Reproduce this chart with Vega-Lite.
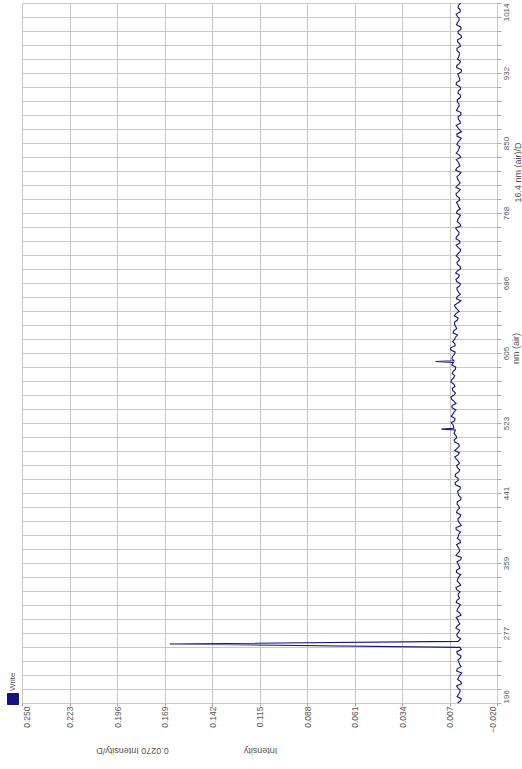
{
  "$schema": "https://vega.github.io/schema/vega-lite/v6.json",
  "width": 475,
  "height": 700,
  "autosize": "none",
  "padding": {"left": 22, "top": 3, "right": 25, "bottom": 66},
  "background": "white",
  "config": {
    "view": {"stroke": "#aaaaaa", "strokeWidth": 1},
    "font": "Liberation Sans",
    "axis": {
      "labelColor": "#555555",
      "titleColor": "#555555",
      "titleFontWeight": "normal",
      "titleFontSize": 9,
      "gridColor": "#c8c8c8",
      "gridWidth": 1,
      "domain": false,
      "tickColor": "#aaaaaa",
      "labelFlush": false
    }
  },
  "data": {
    "values": [
      {"nm": 196, "intensity": 0.0024, "series": "Write"},
      {"nm": 201, "intensity": 0.0003, "series": "Write"},
      {"nm": 206, "intensity": 0.00195, "series": "Write"},
      {"nm": 211, "intensity": 0.0009, "series": "Write"},
      {"nm": 216, "intensity": 0.0030, "series": "Write"},
      {"nm": 221, "intensity": 0.0006, "series": "Write"},
      {"nm": 226, "intensity": 0.0018, "series": "Write"},
      {"nm": 231, "intensity": 0.0000, "series": "Write"},
      {"nm": 236, "intensity": 0.00255, "series": "Write"},
      {"nm": 241, "intensity": 0.0012, "series": "Write"},
      {"nm": 246, "intensity": 0.00225, "series": "Write"},
      {"nm": 251, "intensity": 0.00045, "series": "Write"},
      {"nm": 256, "intensity": 0.00285, "series": "Write"},
      {"nm": 261, "intensity": 0.00105, "series": "Write"},
      {"nm": 265, "intensity": 0.166, "series": "Write"},
      {"nm": 268, "intensity": 0.00215, "series": "Write"},
      {"nm": 271, "intensity": 0.00065, "series": "Write"},
      {"nm": 276, "intensity": 0.0029, "series": "Write"},
      {"nm": 281, "intensity": 0.00125, "series": "Write"},
      {"nm": 286, "intensity": 0.0026, "series": "Write"},
      {"nm": 291, "intensity": 0.00185, "series": "Write"},
      {"nm": 296, "intensity": 0.0032, "series": "Write"},
      {"nm": 301, "intensity": 0.0011, "series": "Write"},
      {"nm": 306, "intensity": 0.00245, "series": "Write"},
      {"nm": 311, "intensity": 0.0008, "series": "Write"},
      {"nm": 316, "intensity": 0.00275, "series": "Write"},
      {"nm": 321, "intensity": 0.0020, "series": "Write"},
      {"nm": 326, "intensity": 0.00095, "series": "Write"},
      {"nm": 331, "intensity": 0.00335, "series": "Write"},
      {"nm": 336, "intensity": 0.0014, "series": "Write"},
      {"nm": 341, "intensity": 0.0023, "series": "Write"},
      {"nm": 346, "intensity": 0.00065, "series": "Write"},
      {"nm": 351, "intensity": 0.00305, "series": "Write"},
      {"nm": 356, "intensity": 0.00155, "series": "Write"},
      {"nm": 361, "intensity": 0.0027, "series": "Write"},
      {"nm": 366, "intensity": 0.0003, "series": "Write"},
      {"nm": 371, "intensity": 0.0024, "series": "Write"},
      {"nm": 376, "intensity": 0.0015, "series": "Write"},
      {"nm": 381, "intensity": 0.0030, "series": "Write"},
      {"nm": 386, "intensity": 0.00105, "series": "Write"},
      {"nm": 391, "intensity": 0.00195, "series": "Write"},
      {"nm": 396, "intensity": 0.00075, "series": "Write"},
      {"nm": 401, "intensity": 0.0033, "series": "Write"},
      {"nm": 406, "intensity": 0.0012, "series": "Write"},
      {"nm": 411, "intensity": 0.00225, "series": "Write"},
      {"nm": 416, "intensity": 0.0006, "series": "Write"},
      {"nm": 421, "intensity": 0.0027, "series": "Write"},
      {"nm": 426, "intensity": 0.00165, "series": "Write"},
      {"nm": 431, "intensity": 0.00255, "series": "Write"},
      {"nm": 436, "intensity": 0.00045, "series": "Write"},
      {"nm": 441, "intensity": 0.0021, "series": "Write"},
      {"nm": 446, "intensity": 0.0009, "series": "Write"},
      {"nm": 451, "intensity": 0.00355, "series": "Write"},
      {"nm": 456, "intensity": 0.00205, "series": "Write"},
      {"nm": 461, "intensity": 0.00385, "series": "Write"},
      {"nm": 466, "intensity": 0.00175, "series": "Write"},
      {"nm": 471, "intensity": 0.0025, "series": "Write"},
      {"nm": 476, "intensity": 0.0013, "series": "Write"},
      {"nm": 481, "intensity": 0.0031, "series": "Write"},
      {"nm": 486, "intensity": 0.0022, "series": "Write"},
      {"nm": 491, "intensity": 0.0040, "series": "Write"},
      {"nm": 496, "intensity": 0.00145, "series": "Write"},
      {"nm": 501, "intensity": 0.00395, "series": "Write"},
      {"nm": 506, "intensity": 0.0029, "series": "Write"},
      {"nm": 511, "intensity": 0.0044, "series": "Write"},
      {"nm": 515, "intensity": 0.00365, "series": "Write"},
      {"nm": 516, "intensity": 0.0115, "series": "Write"},
      {"nm": 517, "intensity": 0.00455, "series": "Write"},
      {"nm": 521, "intensity": 0.00495, "series": "Write"},
      {"nm": 526, "intensity": 0.00405, "series": "Write"},
      {"nm": 531, "intensity": 0.0060, "series": "Write"},
      {"nm": 536, "intensity": 0.0045, "series": "Write"},
      {"nm": 541, "intensity": 0.00555, "series": "Write"},
      {"nm": 546, "intensity": 0.0033, "series": "Write"},
      {"nm": 551, "intensity": 0.00585, "series": "Write"},
      {"nm": 556, "intensity": 0.00435, "series": "Write"},
      {"nm": 561, "intensity": 0.0051, "series": "Write"},
      {"nm": 566, "intensity": 0.0039, "series": "Write"},
      {"nm": 571, "intensity": 0.00615, "series": "Write"},
      {"nm": 576, "intensity": 0.00465, "series": "Write"},
      {"nm": 581, "intensity": 0.0054, "series": "Write"},
      {"nm": 586, "intensity": 0.0036, "series": "Write"},
      {"nm": 591, "intensity": 0.0057, "series": "Write"},
      {"nm": 594, "intensity": 0.0048, "series": "Write"},
      {"nm": 595, "intensity": 0.0150, "series": "Write"},
      {"nm": 596, "intensity": 0.0045, "series": "Write"},
      {"nm": 601, "intensity": 0.00525, "series": "Write"},
      {"nm": 606, "intensity": 0.00375, "series": "Write"},
      {"nm": 611, "intensity": 0.0063, "series": "Write"},
      {"nm": 616, "intensity": 0.00405, "series": "Write"},
      {"nm": 621, "intensity": 0.00395, "series": "Write"},
      {"nm": 626, "intensity": 0.00245, "series": "Write"},
      {"nm": 631, "intensity": 0.00455, "series": "Write"},
      {"nm": 636, "intensity": 0.0035, "series": "Write"},
      {"nm": 641, "intensity": 0.0042, "series": "Write"},
      {"nm": 646, "intensity": 0.0021, "series": "Write"},
      {"nm": 651, "intensity": 0.0033, "series": "Write"},
      {"nm": 656, "intensity": 0.00255, "series": "Write"},
      {"nm": 661, "intensity": 0.00405, "series": "Write"},
      {"nm": 666, "intensity": 0.0005, "series": "Write"},
      {"nm": 671, "intensity": 0.0026, "series": "Write"},
      {"nm": 676, "intensity": 0.00185, "series": "Write"},
      {"nm": 681, "intensity": 0.0029, "series": "Write"},
      {"nm": 686, "intensity": 0.0008, "series": "Write"},
      {"nm": 691, "intensity": 0.00335, "series": "Write"},
      {"nm": 696, "intensity": 0.0014, "series": "Write"},
      {"nm": 701, "intensity": 0.00245, "series": "Write"},
      {"nm": 706, "intensity": 0.00095, "series": "Write"},
      {"nm": 711, "intensity": 0.00275, "series": "Write"},
      {"nm": 716, "intensity": 0.0017, "series": "Write"},
      {"nm": 721, "intensity": 0.00215, "series": "Write"},
      {"nm": 726, "intensity": 0.00065, "series": "Write"},
      {"nm": 731, "intensity": 0.0032, "series": "Write"},
      {"nm": 736, "intensity": 0.00125, "series": "Write"},
      {"nm": 741, "intensity": 0.0029, "series": "Write"},
      {"nm": 746, "intensity": 0.00155, "series": "Write"},
      {"nm": 751, "intensity": 0.0035, "series": "Write"},
      {"nm": 756, "intensity": 0.0011, "series": "Write"},
      {"nm": 761, "intensity": 0.0023, "series": "Write"},
      {"nm": 766, "intensity": 0.0008, "series": "Write"},
      {"nm": 771, "intensity": 0.0026, "series": "Write"},
      {"nm": 776, "intensity": 0.00185, "series": "Write"},
      {"nm": 781, "intensity": 0.00305, "series": "Write"},
      {"nm": 786, "intensity": 0.0014, "series": "Write"},
      {"nm": 791, "intensity": 0.00335, "series": "Write"},
      {"nm": 796, "intensity": 0.00095, "series": "Write"},
      {"nm": 801, "intensity": 0.00245, "series": "Write"},
      {"nm": 806, "intensity": 0.0017, "series": "Write"},
      {"nm": 811, "intensity": 0.00275, "series": "Write"},
      {"nm": 816, "intensity": 0.0005, "series": "Write"},
      {"nm": 821, "intensity": 0.0029, "series": "Write"},
      {"nm": 826, "intensity": 0.00155, "series": "Write"},
      {"nm": 831, "intensity": 0.0032, "series": "Write"},
      {"nm": 836, "intensity": 0.00125, "series": "Write"},
      {"nm": 841, "intensity": 0.00215, "series": "Write"},
      {"nm": 846, "intensity": 0.0011, "series": "Write"},
      {"nm": 851, "intensity": 0.0023, "series": "Write"},
      {"nm": 856, "intensity": 0.00035, "series": "Write"},
      {"nm": 861, "intensity": 0.00275, "series": "Write"},
      {"nm": 866, "intensity": 0.0014, "series": "Write"},
      {"nm": 871, "intensity": 0.0032, "series": "Write"},
      {"nm": 876, "intensity": 0.0011, "series": "Write"},
      {"nm": 881, "intensity": 0.00215, "series": "Write"},
      {"nm": 886, "intensity": 0.0005, "series": "Write"},
      {"nm": 891, "intensity": 0.00245, "series": "Write"},
      {"nm": 896, "intensity": 0.00155, "series": "Write"},
      {"nm": 901, "intensity": 0.0026, "series": "Write"},
      {"nm": 906, "intensity": 0.00065, "series": "Write"},
      {"nm": 911, "intensity": 0.0020, "series": "Write"},
      {"nm": 916, "intensity": 0.00095, "series": "Write"},
      {"nm": 921, "intensity": 0.00305, "series": "Write"},
      {"nm": 926, "intensity": 0.00125, "series": "Write"},
      {"nm": 931, "intensity": 0.0023, "series": "Write"},
      {"nm": 936, "intensity": 0.0002, "series": "Write"},
      {"nm": 941, "intensity": 0.0029, "series": "Write"},
      {"nm": 946, "intensity": 0.0008, "series": "Write"},
      {"nm": 951, "intensity": 0.00185, "series": "Write"},
      {"nm": 956, "intensity": 0.0014, "series": "Write"},
      {"nm": 961, "intensity": 0.00275, "series": "Write"},
      {"nm": 966, "intensity": 0.0011, "series": "Write"},
      {"nm": 971, "intensity": 0.00245, "series": "Write"},
      {"nm": 976, "intensity": 0.00035, "series": "Write"},
      {"nm": 981, "intensity": 0.00215, "series": "Write"},
      {"nm": 986, "intensity": 0.0005, "series": "Write"},
      {"nm": 991, "intensity": 0.0026, "series": "Write"},
      {"nm": 996, "intensity": 0.00155, "series": "Write"},
      {"nm": 1001, "intensity": 0.0032, "series": "Write"},
      {"nm": 1006, "intensity": 0.00095, "series": "Write"},
      {"nm": 1011, "intensity": 0.0020, "series": "Write"},
      {"nm": 1014, "intensity": 0.00065, "series": "Write"},
      {"nm": 198.5, "intensity": 0.00075, "series": "Write"},
      {"nm": 203.5, "intensity": 0.0027, "series": "Write"},
      {"nm": 208.5, "intensity": 0.0012, "series": "Write"},
      {"nm": 213.5, "intensity": 0.0021, "series": "Write"},
      {"nm": 218.5, "intensity": 0.00015, "series": "Write"},
      {"nm": 223.5, "intensity": 0.0024, "series": "Write"},
      {"nm": 228.5, "intensity": 0.00105, "series": "Write"},
      {"nm": 233.5, "intensity": 0.0030, "series": "Write"},
      {"nm": 238.5, "intensity": 0.00045, "series": "Write"},
      {"nm": 243.5, "intensity": 0.00165, "series": "Write"},
      {"nm": 248.5, "intensity": 0.0009, "series": "Write"},
      {"nm": 253.5, "intensity": 0.00255, "series": "Write"},
      {"nm": 258.5, "intensity": 0.0003, "series": "Write"},
      {"nm": 273.5, "intensity": 0.00245, "series": "Write"},
      {"nm": 278.5, "intensity": 0.00185, "series": "Write"},
      {"nm": 283.5, "intensity": 0.00335, "series": "Write"},
      {"nm": 288.5, "intensity": 0.0011, "series": "Write"},
      {"nm": 293.5, "intensity": 0.0023, "series": "Write"},
      {"nm": 298.5, "intensity": 0.0005, "series": "Write"},
      {"nm": 303.5, "intensity": 0.00275, "series": "Write"},
      {"nm": 308.5, "intensity": 0.00155, "series": "Write"},
      {"nm": 313.5, "intensity": 0.0032, "series": "Write"},
      {"nm": 318.5, "intensity": 0.00125, "series": "Write"},
      {"nm": 323.5, "intensity": 0.0020, "series": "Write"},
      {"nm": 328.5, "intensity": 0.0029, "series": "Write"},
      {"nm": 333.5, "intensity": 0.00065, "series": "Write"},
      {"nm": 338.5, "intensity": 0.0026, "series": "Write"},
      {"nm": 343.5, "intensity": 0.0017, "series": "Write"},
      {"nm": 348.5, "intensity": 0.00305, "series": "Write"},
      {"nm": 353.5, "intensity": 0.0011, "series": "Write"},
      {"nm": 358.5, "intensity": 0.00215, "series": "Write"},
      {"nm": 363.5, "intensity": 0.0006, "series": "Write"},
      {"nm": 368.5, "intensity": 0.0033, "series": "Write"},
      {"nm": 373.5, "intensity": 0.0012, "series": "Write"},
      {"nm": 378.5, "intensity": 0.00225, "series": "Write"},
      {"nm": 383.5, "intensity": 0.00075, "series": "Write"},
      {"nm": 388.5, "intensity": 0.00255, "series": "Write"},
      {"nm": 393.5, "intensity": 0.00165, "series": "Write"},
      {"nm": 398.5, "intensity": 0.00315, "series": "Write"},
      {"nm": 403.5, "intensity": 0.0003, "series": "Write"},
      {"nm": 408.5, "intensity": 0.0021, "series": "Write"},
      {"nm": 413.5, "intensity": 0.00105, "series": "Write"},
      {"nm": 418.5, "intensity": 0.0030, "series": "Write"},
      {"nm": 423.5, "intensity": 0.00135, "series": "Write"},
      {"nm": 428.5, "intensity": 0.0027, "series": "Write"},
      {"nm": 433.5, "intensity": 0.0006, "series": "Write"},
      {"nm": 438.5, "intensity": 0.0018, "series": "Write"},
      {"nm": 443.5, "intensity": 0.0024, "series": "Write"},
      {"nm": 448.5, "intensity": 0.0009, "series": "Write"},
      {"nm": 453.5, "intensity": 0.00385, "series": "Write"},
      {"nm": 458.5, "intensity": 0.0022, "series": "Write"},
      {"nm": 463.5, "intensity": 0.00355, "series": "Write"},
      {"nm": 468.5, "intensity": 0.00115, "series": "Write"},
      {"nm": 473.5, "intensity": 0.00295, "series": "Write"},
      {"nm": 478.5, "intensity": 0.0019, "series": "Write"},
      {"nm": 483.5, "intensity": 0.0040, "series": "Write"},
      {"nm": 488.5, "intensity": 0.00145, "series": "Write"},
      {"nm": 493.5, "intensity": 0.00265, "series": "Write"},
      {"nm": 498.5, "intensity": 0.00175, "series": "Write"},
      {"nm": 503.5, "intensity": 0.0044, "series": "Write"},
      {"nm": 508.5, "intensity": 0.00335, "series": "Write"},
      {"nm": 523.5, "intensity": 0.0060, "series": "Write"},
      {"nm": 528.5, "intensity": 0.0039, "series": "Write"},
      {"nm": 533.5, "intensity": 0.0051, "series": "Write"},
      {"nm": 538.5, "intensity": 0.0033, "series": "Write"},
      {"nm": 543.5, "intensity": 0.00555, "series": "Write"},
      {"nm": 548.5, "intensity": 0.00435, "series": "Write"},
      {"nm": 553.5, "intensity": 0.00615, "series": "Write"},
      {"nm": 558.5, "intensity": 0.0036, "series": "Write"},
      {"nm": 563.5, "intensity": 0.0054, "series": "Write"},
      {"nm": 568.5, "intensity": 0.0045, "series": "Write"},
      {"nm": 573.5, "intensity": 0.00585, "series": "Write"},
      {"nm": 578.5, "intensity": 0.00405, "series": "Write"},
      {"nm": 583.5, "intensity": 0.00495, "series": "Write"},
      {"nm": 588.5, "intensity": 0.00345, "series": "Write"},
      {"nm": 598.5, "intensity": 0.0057, "series": "Write"},
      {"nm": 603.5, "intensity": 0.0042, "series": "Write"},
      {"nm": 608.5, "intensity": 0.0063, "series": "Write"},
      {"nm": 613.5, "intensity": 0.00375, "series": "Write"},
      {"nm": 618.5, "intensity": 0.00525, "series": "Write"},
      {"nm": 623.5, "intensity": 0.00365, "series": "Write"},
      {"nm": 628.5, "intensity": 0.0050, "series": "Write"},
      {"nm": 633.5, "intensity": 0.0029, "series": "Write"},
      {"nm": 638.5, "intensity": 0.0041, "series": "Write"},
      {"nm": 643.5, "intensity": 0.00255, "series": "Write"},
      {"nm": 648.5, "intensity": 0.00435, "series": "Write"},
      {"nm": 653.5, "intensity": 0.0015, "series": "Write"},
      {"nm": 658.5, "intensity": 0.00375, "series": "Write"},
      {"nm": 663.5, "intensity": 0.0022, "series": "Write"},
      {"nm": 668.5, "intensity": 0.00305, "series": "Write"},
      {"nm": 673.5, "intensity": 0.0008, "series": "Write"},
      {"nm": 678.5, "intensity": 0.0026, "series": "Write"},
      {"nm": 683.5, "intensity": 0.00125, "series": "Write"},
      {"nm": 688.5, "intensity": 0.0029, "series": "Write"},
      {"nm": 693.5, "intensity": 0.00185, "series": "Write"},
      {"nm": 698.5, "intensity": 0.0035, "series": "Write"},
      {"nm": 703.5, "intensity": 0.00065, "series": "Write"},
      {"nm": 708.5, "intensity": 0.00245, "series": "Write"},
      {"nm": 713.5, "intensity": 0.0014, "series": "Write"},
      {"nm": 718.5, "intensity": 0.0032, "series": "Write"},
      {"nm": 723.5, "intensity": 0.00095, "series": "Write"},
      {"nm": 728.5, "intensity": 0.00215, "series": "Write"},
      {"nm": 733.5, "intensity": 0.0011, "series": "Write"},
      {"nm": 738.5, "intensity": 0.00335, "series": "Write"},
      {"nm": 743.5, "intensity": 0.0017, "series": "Write"},
      {"nm": 748.5, "intensity": 0.00275, "series": "Write"},
      {"nm": 753.5, "intensity": 0.0005, "series": "Write"},
      {"nm": 758.5, "intensity": 0.0026, "series": "Write"},
      {"nm": 763.5, "intensity": 0.00155, "series": "Write"},
      {"nm": 768.5, "intensity": 0.00305, "series": "Write"},
      {"nm": 773.5, "intensity": 0.0008, "series": "Write"},
      {"nm": 778.5, "intensity": 0.0023, "series": "Write"},
      {"nm": 783.5, "intensity": 0.00125, "series": "Write"},
      {"nm": 788.5, "intensity": 0.0029, "series": "Write"},
      {"nm": 793.5, "intensity": 0.00185, "series": "Write"},
      {"nm": 798.5, "intensity": 0.00335, "series": "Write"},
      {"nm": 803.5, "intensity": 0.00095, "series": "Write"},
      {"nm": 808.5, "intensity": 0.00245, "series": "Write"},
      {"nm": 813.5, "intensity": 0.0014, "series": "Write"},
      {"nm": 818.5, "intensity": 0.0035, "series": "Write"},
      {"nm": 823.5, "intensity": 0.0011, "series": "Write"},
      {"nm": 828.5, "intensity": 0.00215, "series": "Write"},
      {"nm": 833.5, "intensity": 0.00065, "series": "Write"},
      {"nm": 838.5, "intensity": 0.0032, "series": "Write"},
      {"nm": 843.5, "intensity": 0.0017, "series": "Write"},
      {"nm": 848.5, "intensity": 0.00275, "series": "Write"},
      {"nm": 853.5, "intensity": 0.00125, "series": "Write"},
      {"nm": 858.5, "intensity": 0.00275, "series": "Write"},
      {"nm": 863.5, "intensity": 0.0002, "series": "Write"},
      {"nm": 868.5, "intensity": 0.0023, "series": "Write"},
      {"nm": 873.5, "intensity": 0.0008, "series": "Write"},
      {"nm": 878.5, "intensity": 0.0020, "series": "Write"},
      {"nm": 883.5, "intensity": 0.0005, "series": "Write"},
      {"nm": 888.5, "intensity": 0.00305, "series": "Write"},
      {"nm": 893.5, "intensity": 0.00155, "series": "Write"},
      {"nm": 898.5, "intensity": 0.0026, "series": "Write"},
      {"nm": 903.5, "intensity": 0.00095, "series": "Write"},
      {"nm": 908.5, "intensity": 0.00215, "series": "Write"},
      {"nm": 913.5, "intensity": 0.00065, "series": "Write"},
      {"nm": 918.5, "intensity": 0.0032, "series": "Write"},
      {"nm": 923.5, "intensity": 0.0011, "series": "Write"},
      {"nm": 928.5, "intensity": 0.00185, "series": "Write"},
      {"nm": 933.5, "intensity": 0.00035, "series": "Write"},
      {"nm": 938.5, "intensity": 0.0029, "series": "Write"},
      {"nm": 943.5, "intensity": 0.00125, "series": "Write"},
      {"nm": 948.5, "intensity": 0.00245, "series": "Write"},
      {"nm": 953.5, "intensity": 0.0014, "series": "Write"},
      {"nm": 958.5, "intensity": 0.00275, "series": "Write"},
      {"nm": 963.5, "intensity": 0.0008, "series": "Write"},
      {"nm": 968.5, "intensity": 0.0023, "series": "Write"},
      {"nm": 973.5, "intensity": 0.0002, "series": "Write"},
      {"nm": 978.5, "intensity": 0.0020, "series": "Write"},
      {"nm": 983.5, "intensity": 0.0005, "series": "Write"},
      {"nm": 988.5, "intensity": 0.00305, "series": "Write"},
      {"nm": 993.5, "intensity": 0.00155, "series": "Write"},
      {"nm": 998.5, "intensity": 0.0026, "series": "Write"},
      {"nm": 1003.5, "intensity": 0.00095, "series": "Write"},
      {"nm": 1008.5, "intensity": 0.00215, "series": "Write"}
    ]
  },
  "layer": [
    {
      "mark": {"type": "line", "strokeOpacity": 0},
      "encoding": {
        "x": {
          "field": "intensity", "type": "quantitative",
          "scale": {"domain": [-0.02, 0.25], "reverse": true, "nice": false, "zero": false},
          "axis": {
            "orient": "bottom",
            "values": [-0.02, 0.007, 0.034, 0.061, 0.088, 0.115, 0.142, 0.169, 0.196, 0.223, 0.25],
            "labels": false, "ticks": true, "tickSize": 3, "grid": true,
            "title": "0.0270 Intensity/D", "titleAngle": 180, "titleX": 110, "titleY": 47,
            "titleAlign": "center", "titleBaseline": "middle"
          }
        },
        "y": {
          "field": "nm", "type": "quantitative",
          "scale": {"domain": [196, 1014], "nice": false, "zero": false},
          "axis": {
            "orient": "right",
            "values": [196, 212.36, 228.72, 245.08, 261.44, 277.8, 294.16, 310.52, 326.88, 343.24, 359.6, 375.96, 392.32, 408.68, 425.04, 441.4, 457.76, 474.12, 490.48, 506.84, 523.2, 539.56, 555.92, 572.28, 588.64, 605, 621.36, 637.72, 654.08, 670.44, 686.8, 703.16, 719.52, 735.88, 752.24, 768.6, 784.96, 801.32, 817.68, 834.04, 850.4, 866.76, 883.12, 899.48, 915.84, 932.2, 948.56, 964.92, 981.28, 997.64, 1014],
            "labels": false, "ticks": true, "tickSize": 4, "grid": true,
            "title": "16.4 nm (air)/D", "titleAngle": 270, "titleX": 20, "titleY": 169,
            "titleAlign": "center", "titleBaseline": "middle"
          }
        },
        "order": {"field": "nm", "type": "quantitative"}
      }
    },
    {
      "mark": {"type": "line", "strokeWidth": 1.1},
      "encoding": {
        "x": {
          "field": "intensity", "type": "quantitative",
          "scale": {"domain": [-0.02, 0.25], "reverse": true, "nice": false, "zero": false},
          "axis": {
            "orient": "bottom",
            "values": [-0.02, 0.007, 0.034, 0.061, 0.088, 0.115, 0.142, 0.169, 0.196, 0.223, 0.25],
            "format": ".3f",
            "grid": false, "ticks": false,
            "labelAngle": 270, "labelAlign": "right", "labelPadding": 3, "labelFontSize": 8.5,
            "labelBaseline": {"condition": [{"test": "datum.value > 0.24", "value": "top"}, {"test": "datum.value < -0.01", "value": "bottom"}], "value": "middle"},
            "title": "Intensity", "titleAngle": 180, "titleX": 238, "titleY": 47,
            "titleAlign": "center", "titleBaseline": "middle"
          }
        },
        "y": {
          "field": "nm", "type": "quantitative",
          "scale": {"domain": [196, 1014], "nice": false, "zero": false},
          "axis": {
            "orient": "right",
            "values": [196, 277.8, 359.6, 441.4, 523.2, 605, 686.8, 768.6, 850.4, 932.2, 1014],
            "labelExpr": "floor(datum.value)",
            "grid": false, "ticks": false,
            "labelAngle": 270, "labelBaseline": "top", "labelPadding": 5, "labelFontSize": 8,
            "labelAlign": {"condition": [{"test": "datum.value < 200", "value": "left"}, {"test": "datum.value > 1010", "value": "right"}], "value": "center"},
            "title": "nm (air)", "titleAngle": 270, "titleX": 18, "titleY": 345,
            "titleAlign": "center", "titleBaseline": "middle"
          }
        },
        "color": {
          "field": "series", "type": "nominal",
          "scale": {"range": ["#14147f"]},
          "legend": {
            "orient": "none", "legendX": -15, "legendY": 690, "title": null,
            "padding": 0, "symbolType": "square", "symbolSize": 121,
            "symbolFillColor": "#14147f", "symbolStrokeColor": "#14147f", "symbolStrokeWidth": 1,
            "labelFontSize": 8, "labelColor": "#555555",
            "encode": {
              "symbols": {"update": {"fill": {"value": "#14147f"}, "stroke": {"value": "#14147f"}}},
              "labels": {"update": {"angle": {"value": 270}, "align": {"value": "left"}, "baseline": {"value": "middle"}, "dx": {"value": 8}, "dy": {"value": -10}}}
            }
          }
        },
        "order": {"field": "nm", "type": "quantitative"}
      }
    }
  ],
  "resolve": {"axis": {"x": "independent", "y": "independent"}}
}
